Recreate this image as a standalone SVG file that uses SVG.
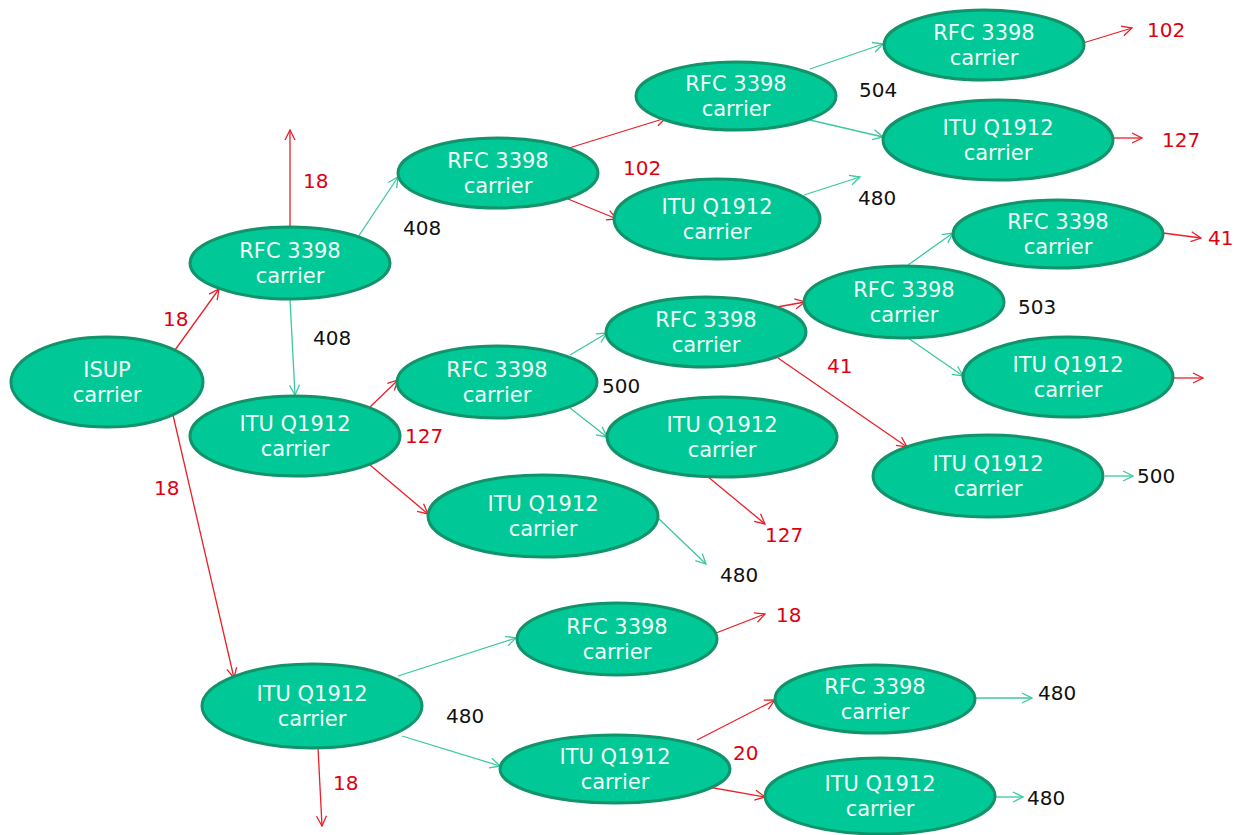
<svg xmlns="http://www.w3.org/2000/svg" width="1235" height="835" viewBox="0 0 1235 835">
<defs>
<style>
.n ellipse{fill:#00c896;stroke:#12936a;stroke-width:3}
.n text{font-family:"DejaVu Sans",Verdana,sans-serif;font-size:21px;fill:#f2fff8;text-anchor:middle}
.r{stroke:#e8202a;stroke-width:1.3;fill:none;marker-end:url(#ar)}
.g{stroke:#3cc8a0;stroke-width:1.3;fill:none;marker-end:url(#ag)}
.lbl{font-family:"DejaVu Sans",Verdana,sans-serif;font-size:20px}
.lr{fill:#e00010}
.lk{fill:#111111}
</style>
<marker id="ar" markerUnits="userSpaceOnUse" viewBox="0 0 12 12" refX="11" refY="6" markerWidth="12" markerHeight="12" orient="auto">
<path d="M1,1 L11,6 L1,11" fill="none" stroke="#e8202a" stroke-width="1.3"/>
</marker>
<marker id="ag" markerUnits="userSpaceOnUse" viewBox="0 0 12 12" refX="11" refY="6" markerWidth="12" markerHeight="12" orient="auto">
<path d="M1,1 L11,6 L1,11" fill="none" stroke="#3cc8a0" stroke-width="1.3"/>
</marker>
</defs>
<rect width="1235" height="835" fill="#ffffff"/>

<g id="connectors">
<line class="r" x1="175" y1="350" x2="219" y2="289"/>
<line class="r" x1="173" y1="415" x2="234" y2="678"/>
<line class="r" x1="290" y1="227" x2="290" y2="130"/>
<line class="r" x1="370" y1="407" x2="398" y2="380"/>
<line class="r" x1="370" y1="465" x2="428" y2="514"/>
<line class="r" x1="569" y1="148" x2="666" y2="118"/>
<line class="r" x1="568" y1="199" x2="617" y2="219"/>
<line class="r" x1="1083" y1="43" x2="1132" y2="28"/>
<line class="r" x1="1113" y1="138" x2="1142" y2="138"/>
<line class="r" x1="777" y1="307" x2="805" y2="302"/>
<line class="r" x1="778" y1="358" x2="907" y2="447"/>
<line class="r" x1="1163" y1="233" x2="1201" y2="238"/>
<line class="r" x1="1173" y1="378" x2="1203" y2="378"/>
<line class="r" x1="707" y1="476" x2="765" y2="524"/>
<line class="r" x1="716" y1="633" x2="765" y2="614"/>
<line class="r" x1="318" y1="748" x2="322" y2="826"/>
<line class="r" x1="697" y1="740" x2="775" y2="700"/>
<line class="r" x1="697" y1="785" x2="765" y2="797"/>

<line class="g" x1="358" y1="237" x2="398" y2="177"/>
<line class="g" x1="290" y1="299" x2="295" y2="395"/>
<line class="g" x1="810" y1="69" x2="883" y2="44"/>
<line class="g" x1="810" y1="120" x2="883" y2="137"/>
<line class="g" x1="804" y1="195" x2="860" y2="177"/>
<line class="g" x1="570" y1="355" x2="607" y2="333"/>
<line class="g" x1="570" y1="408" x2="607" y2="437"/>
<line class="g" x1="908" y1="265" x2="953" y2="233"/>
<line class="g" x1="908" y1="338" x2="963" y2="376"/>
<line class="g" x1="1105" y1="476" x2="1133" y2="476"/>
<line class="g" x1="658" y1="518" x2="706" y2="564"/>
<line class="g" x1="398" y1="676" x2="516" y2="638"/>
<line class="g" x1="402" y1="736" x2="500" y2="766"/>
<line class="g" x1="975" y1="698" x2="1032" y2="698"/>
<line class="g" x1="995" y1="797" x2="1023" y2="797"/>
</g>

<g id="labels" class="lbl">
<text class="lr" x="163" y="326">18</text>
<text class="lr" x="303" y="188">18</text>
<text class="lk" x="403" y="235">408</text>
<text class="lk" x="313" y="345">408</text>
<text class="lr" x="154" y="495">18</text>
<text class="lr" x="405" y="443">127</text>
<text class="lr" x="623" y="175">102</text>
<text class="lk" x="859" y="97">504</text>
<text class="lr" x="1147" y="37">102</text>
<text class="lr" x="1162" y="147">127</text>
<text class="lk" x="858" y="205">480</text>
<text class="lr" x="1208" y="245">41</text>
<text class="lk" x="1018" y="314">503</text>
<text class="lr" x="827" y="373">41</text>
<text class="lk" x="602" y="393">500</text>
<text class="lk" x="1137" y="483">500</text>
<text class="lr" x="765" y="542">127</text>
<text class="lk" x="720" y="582">480</text>
<text class="lr" x="776" y="622">18</text>
<text class="lk" x="446" y="723">480</text>
<text class="lr" x="333" y="790">18</text>
<text class="lr" x="733" y="760">20</text>
<text class="lk" x="1038" y="700">480</text>
<text class="lk" x="1027" y="805">480</text>
</g>

<g id="isup" class="n"><ellipse cx="107" cy="382" rx="96" ry="45"/><text x="107" y="377">ISUP</text><text x="107" y="402">carrier</text></g>
<g id="rfc-a" class="n"><ellipse cx="290" cy="263" rx="100" ry="36"/><text x="290" y="258">RFC 3398</text><text x="290" y="283">carrier</text></g>
<g id="itu-b" class="n"><ellipse cx="295" cy="436" rx="105" ry="40"/><text x="295" y="431">ITU Q1912</text><text x="295" y="456">carrier</text></g>
<g id="itu-c" class="n"><ellipse cx="312" cy="706" rx="110" ry="42"/><text x="312" y="701">ITU Q1912</text><text x="312" y="726">carrier</text></g>
<g id="rfc-d" class="n"><ellipse cx="498" cy="173" rx="100" ry="35"/><text x="498" y="168">RFC 3398</text><text x="498" y="193">carrier</text></g>
<g id="rfc-e" class="n"><ellipse cx="736" cy="96" rx="100" ry="34"/><text x="736" y="91">RFC 3398</text><text x="736" y="116">carrier</text></g>
<g id="itu-f" class="n"><ellipse cx="717" cy="219" rx="103" ry="40"/><text x="717" y="214">ITU Q1912</text><text x="717" y="239">carrier</text></g>
<g id="rfc-g" class="n"><ellipse cx="984" cy="45" rx="100" ry="35"/><text x="984" y="40">RFC 3398</text><text x="984" y="65">carrier</text></g>
<g id="itu-h" class="n"><ellipse cx="998" cy="140" rx="115" ry="40"/><text x="998" y="135">ITU Q1912</text><text x="998" y="160">carrier</text></g>
<g id="rfc-i" class="n"><ellipse cx="1058" cy="234" rx="105" ry="34"/><text x="1058" y="229">RFC 3398</text><text x="1058" y="254">carrier</text></g>
<g id="rfc-j" class="n"><ellipse cx="904" cy="302" rx="100" ry="36"/><text x="904" y="297">RFC 3398</text><text x="904" y="322">carrier</text></g>
<g id="itu-k" class="n"><ellipse cx="1068" cy="377" rx="105" ry="40"/><text x="1068" y="372">ITU Q1912</text><text x="1068" y="397">carrier</text></g>
<g id="itu-l" class="n"><ellipse cx="988" cy="476" rx="115" ry="41"/><text x="988" y="471">ITU Q1912</text><text x="988" y="496">carrier</text></g>
<g id="rfc-m" class="n"><ellipse cx="706" cy="332" rx="100" ry="35"/><text x="706" y="327">RFC 3398</text><text x="706" y="352">carrier</text></g>
<g id="rfc-n" class="n"><ellipse cx="497" cy="382" rx="100" ry="36"/><text x="497" y="377">RFC 3398</text><text x="497" y="402">carrier</text></g>
<g id="itu-o" class="n"><ellipse cx="722" cy="437" rx="115" ry="40"/><text x="722" y="432">ITU Q1912</text><text x="722" y="457">carrier</text></g>
<g id="itu-p" class="n"><ellipse cx="543" cy="516" rx="115" ry="41"/><text x="543" y="511">ITU Q1912</text><text x="543" y="536">carrier</text></g>
<g id="rfc-q" class="n"><ellipse cx="617" cy="639" rx="100" ry="36"/><text x="617" y="634">RFC 3398</text><text x="617" y="659">carrier</text></g>
<g id="itu-r" class="n"><ellipse cx="615" cy="769" rx="115" ry="34"/><text x="615" y="764">ITU Q1912</text><text x="615" y="789">carrier</text></g>
<g id="rfc-s" class="n"><ellipse cx="875" cy="699" rx="100" ry="34"/><text x="875" y="694">RFC 3398</text><text x="875" y="719">carrier</text></g>
<g id="itu-t" class="n"><ellipse cx="880" cy="796" rx="115" ry="38"/><text x="880" y="791">ITU Q1912</text><text x="880" y="816">carrier</text></g>
</svg>
